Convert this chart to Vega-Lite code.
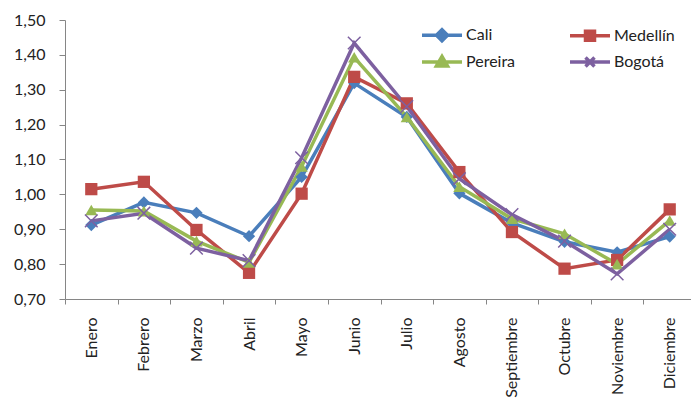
{
  "$schema": "https://vega.github.io/schema/vega-lite/v6.json",
  "width": 631,
  "height": 279,
  "autosize": "none",
  "padding": {"left": 65, "top": 20, "right": 0, "bottom": 104},
  "background": "white",
  "config": {
    "view": {"stroke": null},
    "font": "Lato",
    "axis": {"labelFont": "Lato", "labelColor": "#222", "domainColor": "#868686", "tickColor": "#868686", "grid": false, "title": null}
  },
  "data": {"values": [
    {"mes": "Enero", "ciudad": "Cali", "v": 0.912},
    {"mes": "Febrero", "ciudad": "Cali", "v": 0.977},
    {"mes": "Marzo", "ciudad": "Cali", "v": 0.947},
    {"mes": "Abril", "ciudad": "Cali", "v": 0.880},
    {"mes": "Mayo", "ciudad": "Cali", "v": 1.050},
    {"mes": "Junio", "ciudad": "Cali", "v": 1.319},
    {"mes": "Julio", "ciudad": "Cali", "v": 1.222},
    {"mes": "Agosto", "ciudad": "Cali", "v": 1.003},
    {"mes": "Septiembre", "ciudad": "Cali", "v": 0.918},
    {"mes": "Octubre", "ciudad": "Cali", "v": 0.864},
    {"mes": "Noviembre", "ciudad": "Cali", "v": 0.834},
    {"mes": "Diciembre", "ciudad": "Cali", "v": 0.879},
    {"mes": "Enero", "ciudad": "Medellín", "v": 1.015},
    {"mes": "Febrero", "ciudad": "Medellín", "v": 1.036},
    {"mes": "Marzo", "ciudad": "Medellín", "v": 0.898},
    {"mes": "Abril", "ciudad": "Medellín", "v": 0.775},
    {"mes": "Mayo", "ciudad": "Medellín", "v": 1.002},
    {"mes": "Junio", "ciudad": "Medellín", "v": 1.337},
    {"mes": "Julio", "ciudad": "Medellín", "v": 1.261},
    {"mes": "Agosto", "ciudad": "Medellín", "v": 1.064},
    {"mes": "Septiembre", "ciudad": "Medellín", "v": 0.892},
    {"mes": "Octubre", "ciudad": "Medellín", "v": 0.787},
    {"mes": "Noviembre", "ciudad": "Medellín", "v": 0.812},
    {"mes": "Diciembre", "ciudad": "Medellín", "v": 0.957},
    {"mes": "Enero", "ciudad": "Pereira", "v": 0.955},
    {"mes": "Febrero", "ciudad": "Pereira", "v": 0.952},
    {"mes": "Marzo", "ciudad": "Pereira", "v": 0.866},
    {"mes": "Abril", "ciudad": "Pereira", "v": 0.805},
    {"mes": "Mayo", "ciudad": "Pereira", "v": 1.080},
    {"mes": "Junio", "ciudad": "Pereira", "v": 1.393},
    {"mes": "Julio", "ciudad": "Pereira", "v": 1.222},
    {"mes": "Agosto", "ciudad": "Pereira", "v": 1.022},
    {"mes": "Septiembre", "ciudad": "Pereira", "v": 0.930},
    {"mes": "Octubre", "ciudad": "Pereira", "v": 0.887},
    {"mes": "Noviembre", "ciudad": "Pereira", "v": 0.800},
    {"mes": "Diciembre", "ciudad": "Pereira", "v": 0.925},
    {"mes": "Enero", "ciudad": "Bogotá", "v": 0.924},
    {"mes": "Febrero", "ciudad": "Bogotá", "v": 0.946},
    {"mes": "Marzo", "ciudad": "Bogotá", "v": 0.846},
    {"mes": "Abril", "ciudad": "Bogotá", "v": 0.810},
    {"mes": "Mayo", "ciudad": "Bogotá", "v": 1.105},
    {"mes": "Junio", "ciudad": "Bogotá", "v": 1.434},
    {"mes": "Julio", "ciudad": "Bogotá", "v": 1.252},
    {"mes": "Agosto", "ciudad": "Bogotá", "v": 1.045},
    {"mes": "Septiembre", "ciudad": "Bogotá", "v": 0.942},
    {"mes": "Octubre", "ciudad": "Bogotá", "v": 0.866},
    {"mes": "Noviembre", "ciudad": "Bogotá", "v": 0.772},
    {"mes": "Diciembre", "ciudad": "Bogotá", "v": 0.900}
  ]},
  "encoding": {
    "x": {
      "field": "mes", "type": "nominal",
      "sort": ["Enero","Febrero","Marzo","Abril","Mayo","Junio","Julio","Agosto","Septiembre","Octubre","Noviembre","Diciembre"],
      "scale": {"type": "band", "paddingInner": 0, "paddingOuter": 0},
      "axis": {"tickBand": "extent", "labelAngle": -90, "labelAlign": "right", "labelBaseline": "middle", "labelFontSize": 16, "tickSize": 5, "labelPadding": 13}
    },
    "y": {
      "field": "v", "type": "quantitative",
      "scale": {"domain": [0.7, 1.5], "nice": false, "zero": false},
      "axis": {"values": [0.7,0.8,0.9,1.0,1.1,1.2,1.3,1.4,1.5], "labelExpr": "replace(format(datum.value, '.2f'), '.', ',')", "labelFontSize": 16, "tickSize": 6, "labelPadding": 14}
    },
    "color": {
      "field": "ciudad", "type": "nominal",
      "sort": ["Cali","Medellín","Pereira","Bogotá"],
      "scale": {"domain": ["Cali","Medellín","Pereira","Bogotá"], "range": ["#4A7EBB","#BE4B48","#98B954","#7D60A0"]}
    }
  },
  "layer": [
    {
      "mark": {"type": "line", "strokeWidth": 3.5},
      "encoding": {
        "color": {
          "field": "ciudad", "type": "nominal",
          "sort": ["Cali","Medellín","Pereira","Bogotá"],
          "scale": {"domain": ["Cali","Medellín","Pereira","Bogotá"], "range": ["#4A7EBB","#BE4B48","#98B954","#7D60A0"]},
          "legend": {
            "orient": "none", "direction": "horizontal", "legendX": 365, "legendY": 3, "columns": 2, "columnPadding": 47, "rowPadding": 1,
            "title": null, "labelFontSize": 16, "labelFont": "Lato", "labelColor": "#222", "labelOffset": 12,
            "symbolSize": 400, "symbolStrokeWidth": 3.5,
            "encode": {
              "symbols": {
                "update": {
                  "shape": {"signal": "datum.value === 'Cali' ? 'M-2,0H2M-0.55,0L0,-0.55L0.55,0L0,0.55Z' : datum.value === 'Medellín' ? 'M-2,0H2M-0.45,-0.45H0.45V0.45H-0.45Z' : datum.value === 'Pereira' ? 'M-2,0H2M-0.55,0.4L0,-0.55L0.55,0.4Z' : 'M-2,0H2M-0.45,-0.45L0.45,0.45M-0.45,0.45L0.45,-0.45'"},
                  "fill": {"signal": "scale('color', datum.value)"},
                  "stroke": {"signal": "scale('color', datum.value)"}
                }
              }
            }
          }
        }
      }
    },
    {
      "transform": [{"filter": "datum.ciudad !== 'Bogotá'"}],
      "mark": {"type": "point", "filled": true, "opacity": 1, "size": 150},
      "encoding": {
        "shape": {
          "field": "ciudad", "type": "nominal",
          "scale": {"domain": ["Cali","Medellín","Pereira"], "range": ["diamond","square","triangle-up"]},
          "legend": null
        }
      }
    },
    {
      "transform": [{"filter": "datum.ciudad === 'Bogotá'"}],
      "mark": {"type": "point", "filled": false, "opacity": 1, "size": 160, "strokeWidth": 1.5, "shape": "M-1,-1L1,1M-1,1L1,-1"}
    }
  ]
}
